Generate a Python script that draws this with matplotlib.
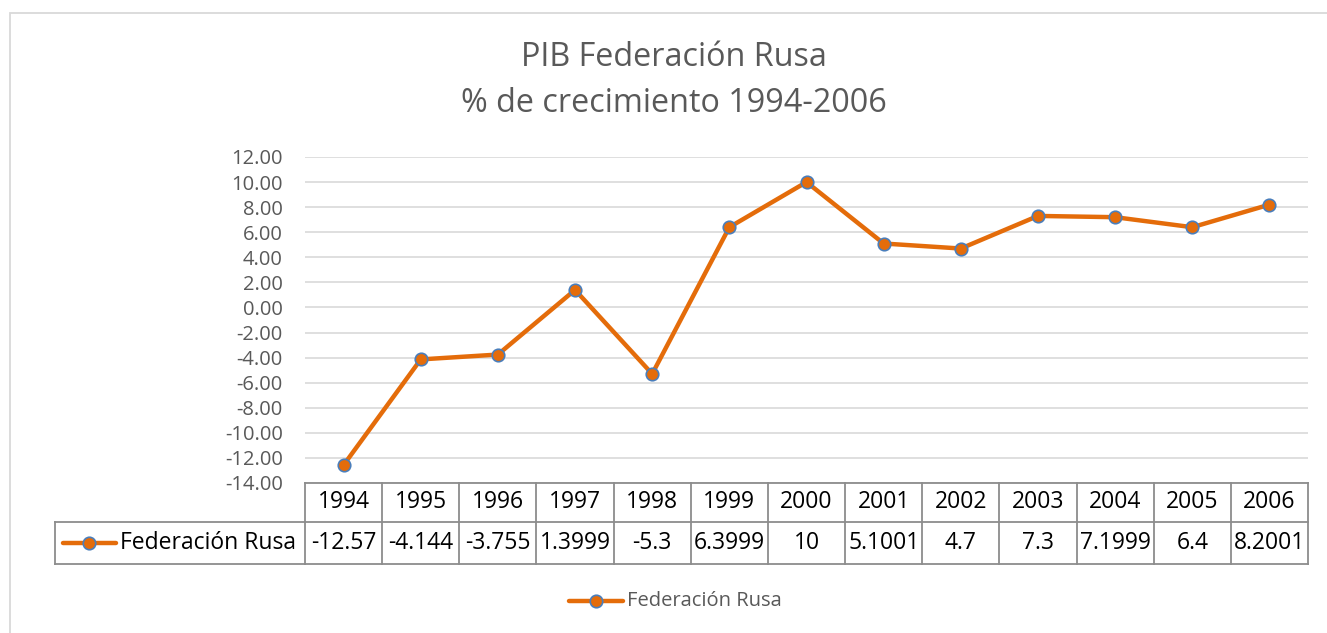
import matplotlib
matplotlib.use("Agg")
import matplotlib.pyplot as plt
from matplotlib.patches import Rectangle
from matplotlib.lines import Line2D
import matplotlib.transforms as mtransforms

years = ["1994", "1995", "1996", "1997", "1998", "1999", "2000",
         "2001", "2002", "2003", "2004", "2005", "2006"]
values = [-12.57, -4.144, -3.755, 1.3999, -5.3, 6.3999, 10,
          5.1001, 4.7, 7.3, 7.1999, 6.4, 8.2001]
value_labels = ["-12.57", "-4.144", "-3.755", "1.3999", "-5.3", "6.3999", "10",
                "5.1001", "4.7", "7.3", "7.1999", "6.4", "8.2001"]
series_name = "Federación Rusa"
title_lines = ["PIB Federación Rusa", "% de crecimiento 1994-2006"]
yticks = list(range(-14, 13, 2))

W, H = 1327, 633
FONT = ["Open Sans", "DejaVu Sans"]
plt.rcParams['font.family'] = FONT

ORANGE = "#E46C0A"
BLUE = "#4A7EBB"
GRAY_TXT = "#595959"
GRID = "#D9D9D9"
TBL = "#8C8C8C"

fig = plt.figure(figsize=(W / 100, H / 100), dpi=100)

def fx(px):
    return px / W

def fy(py):
    return 1 - py / H

# outer chart border
fig.patches.append(Rectangle((fx(10), fy(700)), fx(1400), fy(13) - fy(700),
                             transform=fig.transFigure, fill=False,
                             edgecolor="#D9D9D9", linewidth=1.3))

left_px, right_px, top_px, bot_px = 305, 1308, 157, 483
ax = fig.add_axes([fx(left_px), fy(bot_px), fx(right_px - left_px), (bot_px - top_px) / H])
n = len(years)
x = list(range(n))
ax.set_xlim(-0.5, n - 0.5)
ax.set_ylim(-14, 12)
ax.set_yticks(yticks)
ax.set_yticklabels([f"{v:.2f}" for v in yticks], color=GRAY_TXT, fontsize=14.5)
ax.tick_params(axis="y", length=0, pad=16)
ax.set_xticks([])
for s in ax.spines.values():
    s.set_visible(False)
ax.grid(axis="y", color=GRID, linewidth=1.2)
ax.set_axisbelow(True)

ax.plot(x, values, color=ORANGE, linewidth=3.2, marker="o", markersize=9,
        markerfacecolor=ORANGE, markeredgecolor=BLUE, markeredgewidth=1.2,
        zorder=3, clip_on=False)

# title
fig.text(fx(674), fy(58), title_lines[0], ha="center", va="center",
         fontsize=23.3, color=GRAY_TXT)
fig.text(fx(674), fy(103), title_lines[1], ha="center", va="center",
         fontsize=23.3, color=GRAY_TXT)

# data table
trans = mtransforms.blended_transform_factory(ax.transData, fig.transFigure)
row0_top, row0_bot, row1_bot = fy(483), fy(522), fy(564)
lw = 1.3
for yy in (row0_top, row0_bot, row1_bot):
    ax.add_line(Line2D([-0.5, n - 0.5], [yy, yy], transform=trans, color=TBL, lw=lw, clip_on=False))
for i in range(n + 1):
    xb = i - 0.5
    ax.add_line(Line2D([xb, xb], [row1_bot, row0_top], transform=trans, color=TBL, lw=lw, clip_on=False))
# key cell
fig.add_artist(Line2D([fx(55), fx(left_px)], [row0_bot, row0_bot], color=TBL, lw=lw))
fig.add_artist(Line2D([fx(55), fx(left_px)], [row1_bot, row1_bot], color=TBL, lw=lw))
fig.add_artist(Line2D([fx(55), fx(55)], [row1_bot, row0_bot], color=TBL, lw=lw))
for i in range(n):
    ax.text(i, (row0_top + row0_bot) / 2, years[i], transform=trans, ha="center",
            va="center", fontsize=16.5, color="black")
    ax.text(i, (row0_bot + row1_bot) / 2, value_labels[i], transform=trans, ha="center",
            va="center", fontsize=16.5, color="black")

ymid = (row0_bot + row1_bot) / 2
fig.add_artist(Line2D([fx(63), fx(116)], [ymid, ymid], color=ORANGE, lw=3.2,
                      solid_capstyle="round"))
fig.add_artist(Line2D([fx(89)], [ymid], marker="o", markersize=9, color=ORANGE,
                      markerfacecolor=ORANGE, markeredgecolor=BLUE, markeredgewidth=1.2))
fig.text(fx(120), ymid, series_name, ha="left", va="center", fontsize=16.5, color="black")

# bottom legend
ly = fy(601)
fig.add_artist(Line2D([fx(569), fx(623)], [ly, ly], color=ORANGE, lw=3.2,
                      solid_capstyle="round"))
fig.add_artist(Line2D([fx(596)], [ly], marker="o", markersize=9, color=ORANGE,
                      markerfacecolor=ORANGE, markeredgecolor=BLUE, markeredgewidth=1.2))
fig.text(fx(627), ly, series_name, ha="left", va="center", fontsize=14.5, color=GRAY_TXT)

fig.savefig("out.png", dpi=100)
